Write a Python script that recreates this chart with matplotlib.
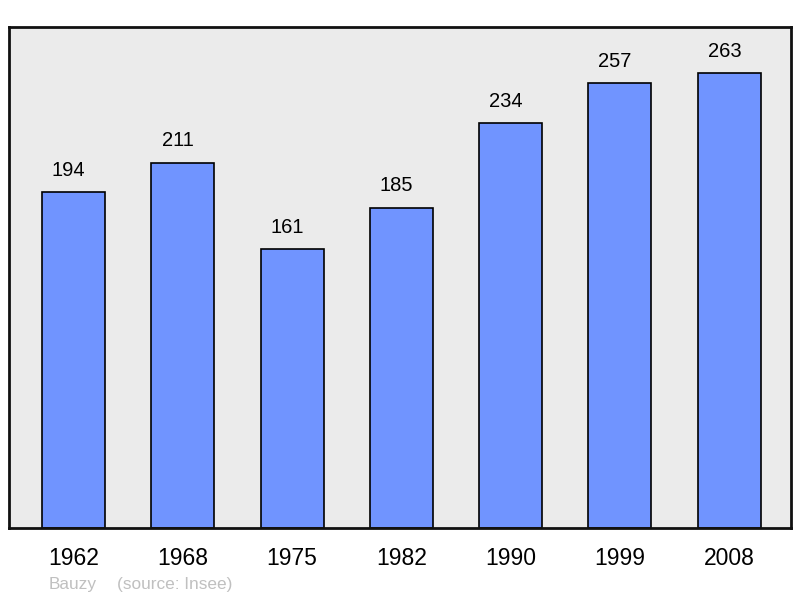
import matplotlib
matplotlib.use("Agg")
import matplotlib.pyplot as plt

years = ["1962", "1968", "1975", "1982", "1990", "1999", "2008"]
population = [194, 211, 161, 185, 234, 257, 263]

plt.rcParams['font.family'] = ['Liberation Sans', 'DejaVu Sans']

fig = plt.figure(figsize=(8, 5.98), dpi=100)
ax = fig.add_axes([9/800, 70/598, 782/800, 501/598])
ax.set_facecolor('#ebebeb')

x = list(range(len(years)))
ax.bar(x, population, width=0.577, color='#7094ff', edgecolor='black', linewidth=1.2, zorder=2)
for xi, v in zip(x, population):
    ax.annotate(str(v), (xi, v), xytext=(-3.5, 9), textcoords='offset points',
                ha='center', va='bottom', fontsize=14.5, color='black')

ax.set_xlim(-0.59, 6.565)
ax.set_ylim(0, 289.6)
ax.set_xticks(x)
ax.set_xticklabels(years, fontsize=16.5)
ax.tick_params(axis='x', length=0, pad=13.5)
ax.set_yticks([])
for s in ax.spines.values():
    s.set_linewidth(2)
    s.set_color('#111111')

fig.text(49/800, 1 - 584/598, "Bauzy", fontsize=12.4, color='#c0c0c0', va='center', ha='left')
fig.text(117/800, 1 - 584/598, "(source: Insee)", fontsize=12.4, color='#c0c0c0', va='center', ha='left')

fig.savefig("out.png", dpi=100)
